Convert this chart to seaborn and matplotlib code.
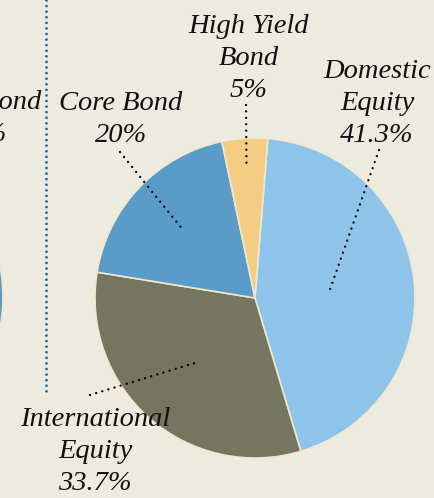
import matplotlib.pyplot as plt
import numpy as np
import seaborn as sns

# slice shares as drawn, clockwise from the top
names = ["Domestic\nEquity", "International\nEquity", "Core Bond", "High Yield\nBond"]
label_pct = [41.3, 33.7, 20, 5]
shares = [44.1, 32.2, 19.1, 4.6]
colors = ["#8EC3EA", "#767560", "#5A9BC8", "#F5CC84"]

# neighbouring chart, only its edge shows on the left
left_names = ["Core Bond"]
left_pct = [30]
left_shares = [1]
left_colors = ["#5A9BC8"]

BG = "#EDEADF"
W, H = 434, 498

sns.set_theme(style="white", rc={"figure.facecolor": BG, "axes.facecolor": BG})
plt.rcParams["font.family"] = ["Liberation Serif", "DejaVu Serif"]


def py(y):
    # pixel row (top down) to data y (bottom up)
    return H - y


def main():
    fig = plt.figure(figsize=(W / 100, H / 100), dpi=100)
    ax = fig.add_axes([0, 0, 1, 1])

    wedge_style = dict(edgecolor="#EFE8D0", linewidth=1.2)
    wedges, _ = ax.pie(shares, colors=colors, startangle=85.4, counterclock=False,
                       center=(255, py(298)), radius=160, wedgeprops=wedge_style)
    ax.pie(left_shares, colors=left_colors, center=(-157, py(297)), radius=160,
           wedgeprops=wedge_style)

    ax.set_xlim(0, W)
    ax.set_ylim(0, H)
    ax.set_aspect("equal")
    ax.axis("off")

    # vertical divider between the two charts
    ax.plot([46, 46], [py(0), py(392)], color="#1366A8", lw=2.0,
            ls=(0, (0.01, 2.0)), dash_capstyle="round")

    text_kw = dict(ha="center", va="baseline", fontsize=20.5, style="italic",
                   color="#111111", linespacing=1.38)

    # label anchor (last baseline), leader outer end, leader inner radius fraction
    label_pos = [(377, 142), (95, 490), (121, 142), (249, 97)]
    leader_out = [(379, 150), (90, 395), (120, 152), (246, 105)]
    leader_r = [0.47, 0.53, 0.64, 0.83]

    cx, cy = 255, py(298)
    for w, name, pct, (lx, ly), (ox, oy), rf in zip(wedges, names, label_pct,
                                                    label_pos, leader_out, leader_r):
        ax.text(lx, py(ly), f"{name}\n{pct:g}%", **text_kw)
        mid = np.deg2rad((w.theta1 + w.theta2) / 2)
        ix = cx + rf * 160 * np.cos(mid)
        iy = cy + rf * 160 * np.sin(mid)
        ax.plot([ox, ix], [py(oy), iy], color="black", lw=1.7,
                ls=(0, (0.01, 2.7)), dash_capstyle="round")

    for name, pct in zip(left_names, left_pct):
        ax.text(-20, py(141), f"{name}\n{pct:g}%", **text_kw)

    fig.savefig("out.png", dpi=100, facecolor=BG)


if __name__ == "__main__":
    main()
